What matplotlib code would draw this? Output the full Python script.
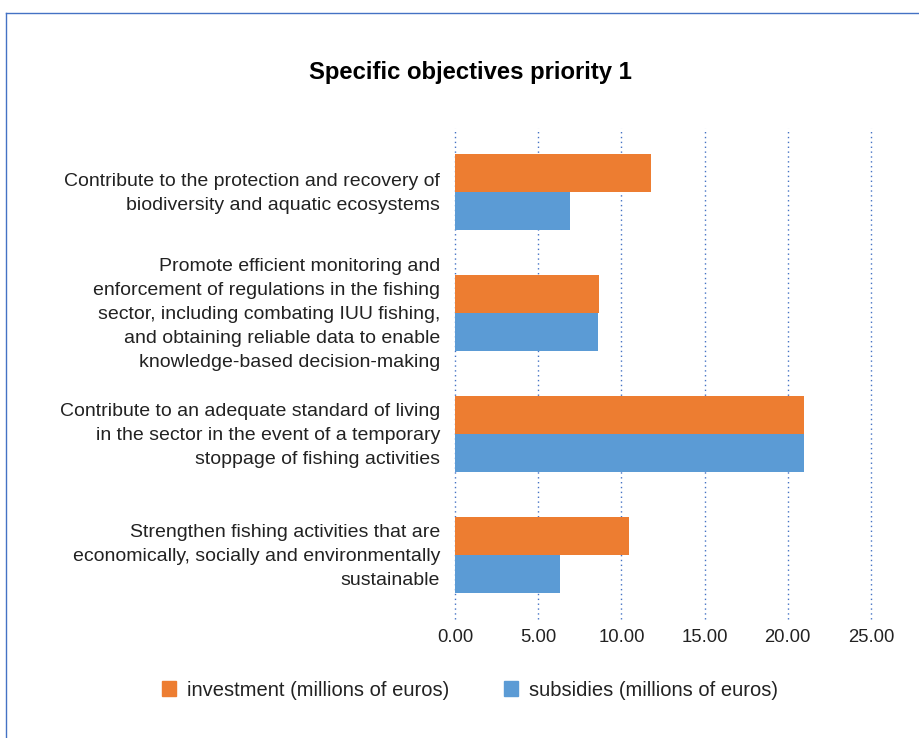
import matplotlib
matplotlib.use("Agg")
import matplotlib.pyplot as plt
from matplotlib.lines import Line2D
from matplotlib.patches import Rectangle
from matplotlib.transforms import ScaledTranslation
import numpy as np

plt.rcParams['font.family'] = ['Liberation Sans', 'DejaVu Sans']

title = "Specific objectives priority 1"
categories = [
    "Contribute to the protection and recovery of\nbiodiversity and aquatic ecosystems",
    "Promote efficient monitoring and\nenforcement of regulations in the fishing\nsector, including combating IUU fishing,\nand obtaining reliable data to enable\nknowledge-based decision-making",
    "Contribute to an adequate standard of living\nin the sector in the event of a temporary\nstoppage of fishing activities",
    "Strengthen fishing activities that are\neconomically, socially and environmentally\nsustainable",
]
investment = [11.78, 8.65, 20.97, 10.46]
subsidies = [6.91, 8.60, 20.97, 6.31]
series_names = ["investment (millions of euros)", "subsidies (millions of euros)"]
xticks = [0, 5, 10, 15, 20, 25]

ORANGE = "#ED7D31"
BLUE = "#5B9BD5"
GRID = "#4472C4"
TXT = "#222222"

W, H = 920, 738
fig = plt.figure(figsize=(W / 100, H / 100), dpi=100)
fig.patch.set_facecolor("white")

ax = fig.add_axes([455 / W, 1 - 615.5 / H, (871 - 455) / W, (615.5 - 131.5) / H])

y = np.arange(len(categories))
bh = 0.314
ax.barh(y - bh / 2, investment, height=bh, color=ORANGE, label=series_names[0], zorder=3)
ax.barh(y + bh / 2, subsidies, height=bh, color=BLUE, label=series_names[1], zorder=3)

ax.set_xlim(0, 25)
ax.set_ylim(3.5, -0.5)
ax.set_xticks(xticks)
ax.set_xticklabels([f"{v:.2f}" for v in xticks], fontsize=13.3, color=TXT)
ax.set_yticks(y)
ax.set_yticklabels(categories, fontsize=14, color=TXT, linespacing=1.53)
ax.tick_params(axis='both', length=0)
ax.tick_params(axis='x', pad=10)
ax.tick_params(axis='y', pad=10.7)
for lab in ax.get_yticklabels():
    lab.set_transform(lab.get_transform() + ScaledTranslation(0, 4 / 100, fig.dpi_scale_trans))
for s in ax.spines.values():
    s.set_visible(False)
for xv in xticks:
    ax.axvline(xv, color=GRID, linestyle=(0, (1, 2.5)), linewidth=1.0, zorder=1, ymin=-0.007, ymax=1.007, clip_on=False)

fig.text(470 / W, 1 - 72 / H, title, ha='center', va='center', fontsize=17.2, fontweight='bold', color='black')

# legend
handles = [Rectangle((0, 0), 1, 1, color=ORANGE), Rectangle((0, 0), 1, 1, color=BLUE)]
fig.legend(handles, series_names, loc='center', bbox_to_anchor=(470 / W, 1 - 690 / H), ncol=2,
           frameon=False, fontsize=14.5, handlelength=0.7, handleheight=0.7, handletextpad=0.55,
           columnspacing=2.7, labelcolor=TXT)

# border
fig.add_artist(Line2D([6 / W, 1], [1 - 12.5 / H, 1 - 12.5 / H], transform=fig.transFigure, color=GRID, linewidth=1.0))
fig.add_artist(Line2D([6.5 / W, 6.5 / W], [0, 1 - 12.5 / H], transform=fig.transFigure, color=GRID, linewidth=1.0))

fig.savefig("out.png", dpi=100, facecolor="white")
